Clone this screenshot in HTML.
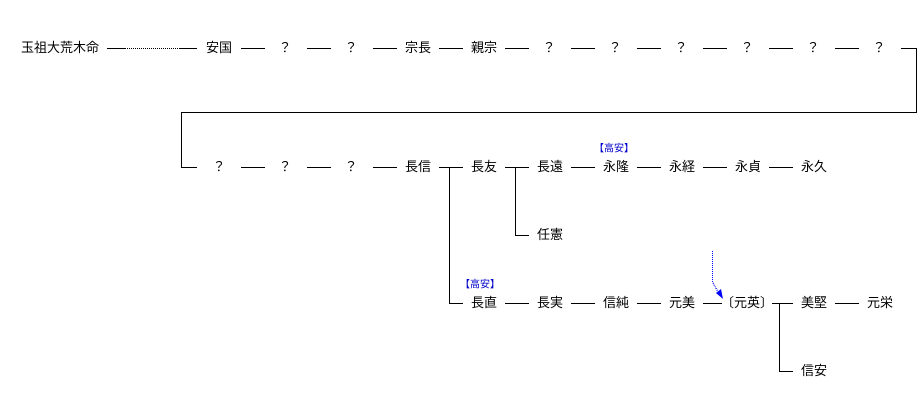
<!DOCTYPE html>
<html><head><meta charset="utf-8"><style>
body{margin:0;width:923px;height:412px;background:#fff;position:relative;overflow:hidden;font-family:"Liberation Sans","Noto Sans CJK JP",sans-serif;}
.t{position:absolute;font-size:13px;line-height:14px;color:#000;white-space:nowrap;transform:translate(-50%,-50%);}
.b{position:absolute;font-size:10px;line-height:11px;color:#0000cc;white-space:nowrap;transform:translate(-50%,-50%);}
svg{position:absolute;left:0;top:0}
</style></head><body>
<svg width="923" height="412" shape-rendering="crispEdges">
<g stroke="#000" stroke-width="1" fill="none">
<line x1="107" y1="48.5" x2="125" y2="48.5"/>
<line x1="125" y1="48.5" x2="180" y2="48.5" stroke-dasharray="1,1"/>
<line x1="180" y1="48.5" x2="197" y2="48.5"/>
<line x1="241" y1="48.5" x2="265" y2="48.5"/>
<line x1="307" y1="48.5" x2="331" y2="48.5"/>
<line x1="373" y1="48.5" x2="397" y2="48.5"/>
<line x1="439" y1="48.5" x2="463" y2="48.5"/>
<line x1="505" y1="48.5" x2="529" y2="48.5"/>
<line x1="571" y1="48.5" x2="595" y2="48.5"/>
<line x1="637" y1="48.5" x2="661" y2="48.5"/>
<line x1="703" y1="48.5" x2="727" y2="48.5"/>
<line x1="769" y1="48.5" x2="793" y2="48.5"/>
<line x1="835" y1="48.5" x2="859" y2="48.5"/>
<polyline points="901,48.5 916.5,48.5 916.5,112.5 181.5,112.5 181.5,167.5 197,167.5"/>
<line x1="241" y1="167.5" x2="265" y2="167.5"/>
<line x1="307" y1="167.5" x2="331" y2="167.5"/>
<line x1="373" y1="167.5" x2="397" y2="167.5"/>
<line x1="439" y1="167.5" x2="463" y2="167.5"/>
<line x1="505" y1="167.5" x2="529" y2="167.5"/>
<line x1="571" y1="167.5" x2="595" y2="167.5"/>
<line x1="637" y1="167.5" x2="661" y2="167.5"/>
<line x1="703" y1="167.5" x2="727" y2="167.5"/>
<line x1="769" y1="167.5" x2="793" y2="167.5"/>
<polyline points="449.5,167.5 449.5,303.5 463,303.5"/>
<polyline points="515.5,167.5 515.5,235.5 529,235.5"/>
<line x1="505" y1="303.5" x2="529" y2="303.5"/>
<line x1="571" y1="303.5" x2="595" y2="303.5"/>
<line x1="637" y1="303.5" x2="661" y2="303.5"/>
<line x1="703" y1="303.5" x2="722" y2="303.5"/>
<line x1="772" y1="303.5" x2="793" y2="303.5"/>
<polyline points="779.5,303.5 779.5,371.5 793,371.5"/>
<line x1="835" y1="303.5" x2="859" y2="303.5"/>
</g>
<polyline points="712.5,251 712.5,282 718,292" stroke="#0000ff" stroke-dasharray="1,1" fill="none"/>
<polygon points="716,293 721,289 723,299" fill="#0000ff" shape-rendering="auto"/>
</svg>
<div class="t" style="left:60px;top:48px">玉祖大荒木命</div>
<div class="t" style="left:219px;top:48px">安国</div>
<div class="t" style="left:285px;top:48px">？</div>
<div class="t" style="left:351px;top:48px">？</div>
<div class="t" style="left:418px;top:48px">宗長</div>
<div class="t" style="left:484px;top:48px">親宗</div>
<div class="t" style="left:549px;top:48px">？</div>
<div class="t" style="left:615px;top:48px">？</div>
<div class="t" style="left:681px;top:48px">？</div>
<div class="t" style="left:747px;top:48px">？</div>
<div class="t" style="left:813px;top:48px">？</div>
<div class="t" style="left:879px;top:48px">？</div>
<div class="t" style="left:219px;top:167px">？</div>
<div class="t" style="left:285px;top:167px">？</div>
<div class="t" style="left:351px;top:167px">？</div>
<div class="t" style="left:418px;top:167px">長信</div>
<div class="t" style="left:484px;top:167px">長友</div>
<div class="t" style="left:550px;top:167px">長遠</div>
<div class="b" style="left:614px;top:149px">【高安】</div>
<div class="t" style="left:616px;top:167px">永隆</div>
<div class="t" style="left:682px;top:167px">永経</div>
<div class="t" style="left:748px;top:167px">永貞</div>
<div class="t" style="left:814px;top:167px">永久</div>
<div class="t" style="left:550px;top:235px">任憲</div>
<div class="b" style="left:480px;top:285px">【高安】</div>
<div class="t" style="left:484px;top:303px">長直</div>
<div class="t" style="left:550px;top:303px">長実</div>
<div class="t" style="left:616px;top:303px">信純</div>
<div class="t" style="left:682px;top:303px">元美</div>
<div class="t" style="left:747px;top:303px">〔元英〕</div>
<div class="t" style="left:814px;top:303px">美堅</div>
<div class="t" style="left:880px;top:303px">元栄</div>
<div class="t" style="left:814px;top:371px">信安</div>
</body></html>
